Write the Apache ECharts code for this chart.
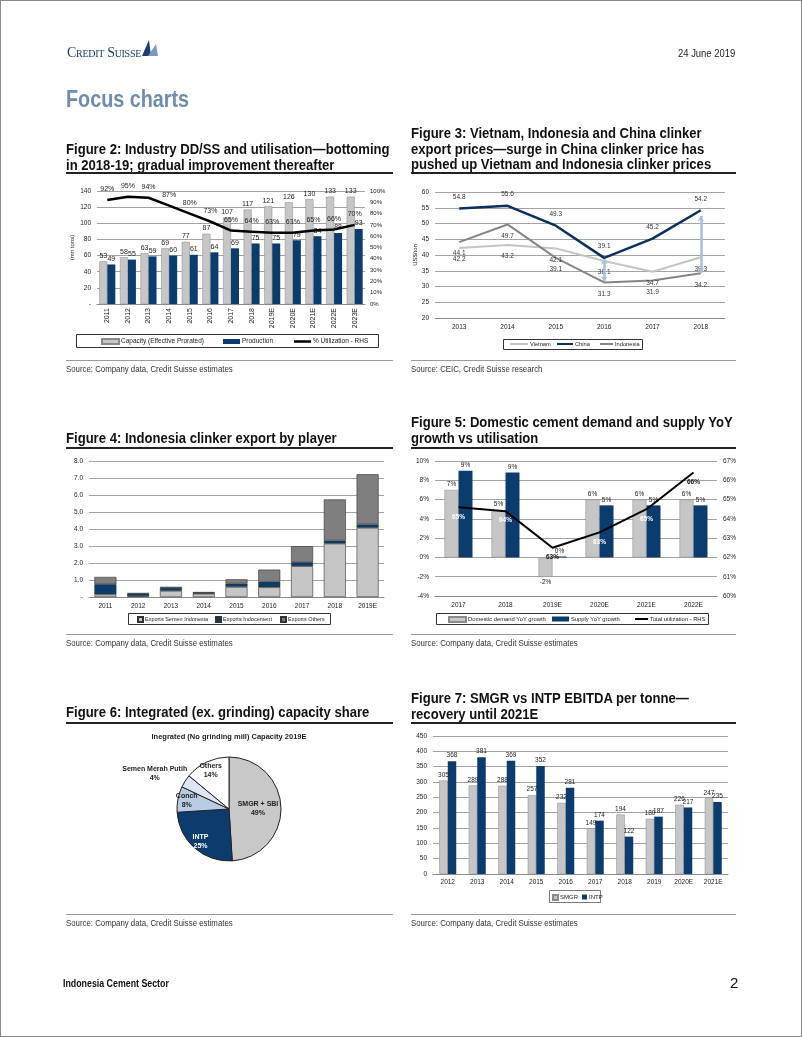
<!DOCTYPE html>
<html><head><meta charset="utf-8">
<script src="https://cdn.jsdelivr.net/npm/echarts/dist/echarts.min.js"></script>
<style>
html,body{margin:0;padding:0;background:#fff;}
#page{position:relative;width:802px;height:1037px;overflow:hidden;box-sizing:border-box;border:1px solid #8a8a8a;
 font-family:"Liberation Sans",Arial,sans-serif;color:#000;}
#chart{position:absolute;left:0;top:0;width:802px;height:1037px;}
.t{position:absolute;white-space:nowrap;transform-origin:0 0;}
.title{font-weight:bold;font-size:14px;line-height:15.5px;color:#111;transform:scaleX(0.935);}
.rule{position:absolute;height:1.5px;background:#222;}
.srule{position:absolute;height:1px;background:#9a9a9a;}
.src{font-size:9px;line-height:12px;color:#333;transform:scaleX(0.87);}
</style></head>
<body><div id="page">
<div id="chart"></div>
<div class="t" style="left:66px;top:44px;font-family:'Liberation Serif',serif;font-variant:small-caps;font-size:14px;line-height:16px;color:#1c3d6e;letter-spacing:-0.3px">Credit Suisse</div>
<svg style="position:absolute;left:140px;top:37px" width="18" height="19"><path d="M1,18 L8,2 L10,18 Z" fill="#1c3d6e"/><path d="M7,18 L15,6 L17,18 Z" fill="#7f98bd"/></svg>
<div class="t" style="left:677px;top:46px;font-size:10.5px;line-height:13px;color:#222;transform:scaleX(0.9)">24 June 2019</div>
<div class="t" style="left:65px;top:85px;font-size:23px;line-height:26px;font-weight:bold;color:#6f8cae;transform:scaleX(0.86)">Focus charts</div>

<div class="t title" style="left:65px;top:141px">Figure 2: Industry DD/SS and utilisation—bottoming<br>in 2018-19; gradual improvement thereafter</div>
<div class="rule" style="left:65px;width:327px;top:171px"></div>
<div class="t title" style="left:410px;top:125px">Figure 3: Vietnam, Indonesia and China clinker<br>export prices—surge in China clinker price has<br>pushed up Vietnam and Indonesia clinker prices</div>
<div class="rule" style="left:410px;width:325px;top:171px"></div>
<div class="srule" style="left:65px;width:327px;top:359px"></div>
<div class="t src" style="left:65px;top:362px">Source: Company data, Credit Suisse estimates</div>
<div class="srule" style="left:410px;width:325px;top:359px"></div>
<div class="t src" style="left:410px;top:362px">Source: CEIC, Credit Suisse research</div>

<div class="t title" style="left:65px;top:430px">Figure 4: Indonesia clinker export by player</div>
<div class="rule" style="left:65px;width:327px;top:446px"></div>
<div class="t title" style="left:410px;top:414px">Figure 5: Domestic cement demand and supply YoY<br>growth vs utilisation</div>
<div class="rule" style="left:410px;width:325px;top:446px"></div>
<div class="srule" style="left:65px;width:327px;top:633px"></div>
<div class="t src" style="left:65px;top:636px">Source: Company data, Credit Suisse estimates</div>
<div class="srule" style="left:410px;width:325px;top:633px"></div>
<div class="t src" style="left:410px;top:636px">Source: Company data, Credit Suisse estimates</div>

<div class="t title" style="left:65px;top:704px">Figure 6: Integrated (ex. grinding) capacity share</div>
<div class="rule" style="left:65px;width:327px;top:721px"></div>
<div class="t title" style="left:410px;top:690px">Figure 7: SMGR vs INTP EBITDA per tonne—<br>recovery until 2021E</div>
<div class="rule" style="left:410px;width:325px;top:721px"></div>
<div class="srule" style="left:65px;width:327px;top:913px"></div>
<div class="t src" style="left:65px;top:916px">Source: Company data, Credit Suisse estimates</div>
<div class="srule" style="left:410px;width:325px;top:913px"></div>
<div class="t src" style="left:410px;top:916px">Source: Company data, Credit Suisse estimates</div>

<div class="t" style="left:62px;top:976px;font-size:10.5px;line-height:13px;font-weight:bold;color:#111;transform:scaleX(0.84)">Indonesia Cement Sector</div>
<div class="t" style="left:729px;top:973px;font-size:15px;line-height:17px;color:#111">2</div>
</div>
<script>
// ---------- DATA ----------
const fig2Years = ['2011','2012','2013','2014','2015','2016','2017','2018','2019E','2020E','2021E','2022E','2023E'];
const fig2Capacity = [53,58,63,69,77,87,107,117,121,126,130,133,133];
const fig2Production = [49,55,59,60,61,64,69,75,75,79,84,88,93];
const fig2Utilization = [92,95,94,87,80,73,65,64,63,63,65,66,70];

const fig3Years = ['2013','2014','2015','2016','2017','2018'];
const fig3Vietnam = [42.2,43.2,42.1,38.1,34.7,39.3];
const fig3China = [54.8,55.6,49.3,39.1,45.2,54.2];
const fig3Indonesia = [44.1,49.7,39.1,31.3,31.9,34.2];
const fig3GapYears = ['2016','2018'];
const fig3GapTop = [38.6,52.4];
const fig3GapBottom = [31.7,34.3];

const fig4Years = ['2011','2012','2013','2014','2015','2016','2017','2018','2019E'];
const fig4SemenIndonesia = [0.15,0.05,0.36,0.19,0.59,0.57,1.81,3.14,4.07];
const fig4Indocement = [0.60,0.15,0.18,0.07,0.20,0.33,0.24,0.18,0.20];
const fig4Others = [0.43,0.03,0.06,0.02,0.25,0.71,0.94,2.42,2.95];

const fig5Years = ['2017','2018','2019E','2020E','2021E','2022E'];
const fig5Demand = [7.0,4.9,-2.0,6.0,6.0,6.0];
const fig5Supply = [9.0,8.8,0.1,5.4,5.4,5.4];
const fig5Utilization = [64.6,64.4,62.5,63.3,64.5,66.4];

const fig6Names = ['SMGR + SBI','INTP','Conch','Semen Merah Putih','Others'];
const fig6Shares = [49,25,8,4,14];
const fig6Title = 'Inegrated (No grinding mill) Capacity 2019E';

const fig7Years = ['2012','2013','2014','2015','2016','2017','2018','2019','2020E','2021E'];
const fig7SMGR = [305,289,288,257,232,149,194,180,226,247];
const fig7INTP = [368,381,369,352,281,174,122,187,217,235];

// ---------- STYLE ----------
const F = '"Liberation Sans",Arial,sans-serif';
const NAVY = '#0c3c6e', LGRAY = '#c6c6c6', DGRAY = '#7f7f7f';
const GRIDC = '#a3a3a3';
const txt = (size, extra) => Object.assign({fontSize:size, color:'#222', fontFamily:F}, extra||{});

function cat(gi, data, lbl) {
  return {type:'category', gridIndex:gi, data:data, boundaryGap:true,
    axisLine:{show:true, onZero:false, lineStyle:{color:'#8c8c8c', width:1}},
    axisTick:{show:false}, splitLine:{show:false},
    axisLabel:Object.assign({interval:0, margin:6}, txt(6.5), lbl||{})};
}
function val(gi, min, max, step, fmt, extra) {
  return Object.assign({type:'value', gridIndex:gi, min:min, max:max, interval:step,
    axisLine:{show:false}, axisTick:{show:false},
    splitLine:{show:true, lineStyle:{color:GRIDC, width:1}},
    axisLabel:Object.assign({formatter:fmt, margin:6}, txt(6.5))}, extra||{});
}
function legend(left, top, item, size, icon) {
  return {left:left, top:top, orient:'horizontal', padding:0, itemGap:0, selectedMode:false,
    itemWidth:size[0], itemHeight:size[1], data:[item], icon:icon || 'rect',
    textStyle:txt(size[2] || 6.5, {padding:[0,0,0,-3]})};
}

const chart = echarts.init(document.getElementById('chart'), null, {renderer:'canvas'});
const opt = {
  animation:false,
  textStyle:{fontFamily:F},
  grid:[
    {left:96, top:190, width:268, height:113, outerBoundsMode:'none', containLabel:false},
    {left:434, top:191, width:290, height:126, outerBoundsMode:'none', containLabel:false},
    {left:88, top:460, width:295, height:136, outerBoundsMode:'none', containLabel:false},
    {left:434, top:460, width:282, height:135, outerBoundsMode:'none', containLabel:false},
    {left:432, top:735, width:295, height:138, outerBoundsMode:'none', containLabel:false}
  ],
  xAxis:[
    cat(0, fig2Years, {rotate:90, fontSize:7, margin:4}),
    cat(1, fig3Years, {margin:6}),
    cat(2, fig4Years, {margin:6}),
    cat(3, fig5Years, {margin:6}),
    cat(4, fig7Years, {margin:5})
  ],
  yAxis:[
    val(0, 0, 140, 20, v => v === 0 ? '-' : v, {name:'(mn tons)', nameLocation:'middle', nameGap:22, nameTextStyle:txt(6)}),
    val(0, 0, 100, 10, v => v + '%', {position:'right', splitLine:{show:false}, axisLabel:Object.assign({formatter:v => v + '%', margin:5}, txt(6))}),
    val(1, 20, 60, 5, v => v, {name:'US$/ton', nameLocation:'middle', nameGap:17, nameTextStyle:txt(6)}),
    val(2, 0, 8, 1, v => v === 0 ? '-' : v.toFixed(1), {}),
    val(3, -4, 10, 2, v => v + '%', {}),
    val(3, 60, 67, 1, v => v + '%', {position:'right', splitLine:{show:false}}),
    val(4, 0, 450, 50, v => v, {})
  ],
  legend:[
    legend(100, 337, 'Capacity (Effective Prorated)', [17,5,6.5]),
    legend(222, 337, 'Production', [17,5,6.5]),
    legend(293, 337, '% Utilization - RHS', [17,2.5,6.5]),
    legend(509, 340, 'Vietnam', [18,2,5.7]),
    legend(556, 340, 'China', [16,2,5.7]),
    legend(599, 340, 'Indonesia', [13,2,5.7]),
    legend(136, 615, 'Exports Semen Indonesia', [5,5,5.5]),
    legend(214, 615, 'Exports Indocement', [5,5,5.5]),
    legend(279, 615, 'Exports Others', [5,5,5.5]),
    legend(447, 615, 'Domestic demand YoY growth', [17,5,5.8]),
    legend(551, 615, 'Supply YoY growth', [17,5,5.8]),
    legend(634, 615, 'Total utilization - RHS', [13,2,5.8])
  ].concat([
    legend(551, 893, 'SMGR', [5,5,6]),
    legend(581, 893, 'INTP', [5,5,6])
  ]),
  graphic:[
    {type:'rect', shape:{x:75.5, y:333.5, width:302, height:13}, style:{fill:'none', stroke:'#333', lineWidth:1}, silent:true},
    {type:'rect', shape:{x:502.5, y:338.5, width:139, height:10}, style:{fill:'none', stroke:'#333', lineWidth:1}, silent:true},
    {type:'rect', shape:{x:127.5, y:612.5, width:202, height:11}, style:{fill:'none', stroke:'#333', lineWidth:1}, silent:true},
    {type:'rect', shape:{x:435.5, y:612.5, width:272, height:11}, style:{fill:'none', stroke:'#333', lineWidth:1}, silent:true},
    {type:'rect', shape:{x:548.5, y:889.5, width:51, height:12}, style:{fill:'none', stroke:'#555', lineWidth:0.8}, silent:true},
    {type:'text', x:228, y:736, style:{text:fig6Title, font:'bold 7.5px ' + F, fill:'#222', textAlign:'center', textVerticalAlign:'middle'}, silent:true}
  ],
  series:[]
};

const S = opt.series;
// Figure 2
const barLbl = (size, fmt) => ({show:true, position:'top', distance:2, formatter:fmt || '{c}', fontSize:size, color:'#222', fontFamily:F});
S.push({type:'bar', name:'Capacity (Effective Prorated)', xAxisIndex:0, yAxisIndex:0, data:fig2Capacity, barWidth:8, barGap:'0%',
  itemStyle:{color:LGRAY, borderColor:'#8a8a8a', borderWidth:0.5}, label:barLbl(7)});
S.push({type:'bar', name:'Production', xAxisIndex:0, yAxisIndex:0, data:fig2Production, barWidth:8, barGap:'0%',
  itemStyle:{color:NAVY}, label:barLbl(7)});
S.push({type:'line', name:'% Utilization - RHS', xAxisIndex:0, yAxisIndex:1, data:fig2Utilization, symbol:'circle', symbolSize:0,
  lineStyle:{color:'#000', width:2.5}, itemStyle:{color:'#000'}, z:5,
  label:{show:true, position:'top', distance:7, formatter:'{c}%', fontSize:7, color:'#222', fontFamily:F}});

// Figure 3
const lineLbl = (pos) => ({show:true, position:pos, distance:8, fontSize:6.5, color:'#333', fontFamily:F});
S.push({type:'line', name:'Vietnam', xAxisIndex:1, yAxisIndex:2, data:fig3Vietnam, symbol:'circle', symbolSize:0,
  lineStyle:{color:'#c4c4c4', width:2}, itemStyle:{color:'#c4c4c4'}, label:lineLbl('bottom')});
S.push({type:'line', name:'China', xAxisIndex:1, yAxisIndex:2, data:fig3China, symbol:'circle', symbolSize:0, z:4,
  lineStyle:{color:'#0d2f5c', width:2.5}, itemStyle:{color:'#0d2f5c'}, label:lineLbl('top'),
  markLine:{silent:true, symbol:['arrow','arrow'], symbolSize:[5,5], label:{show:false},
    lineStyle:{color:'#a6c0dd', width:2.5, type:'solid'},
    data:fig3GapYears.map((y,i) => [{coord:[y, fig3GapTop[i]]}, {coord:[y, fig3GapBottom[i]]}])}});
S.push({type:'line', name:'Indonesia', xAxisIndex:1, yAxisIndex:2, data:fig3Indonesia, symbol:'circle', symbolSize:0,
  lineStyle:{color:'#858585', width:2}, itemStyle:{color:'#858585'}, label:lineLbl('bottom')});

// Figure 4
const st4 = {borderColor:'#333', borderWidth:0.6};
S.push({type:'bar', name:'Exports Semen Indonesia', xAxisIndex:2, yAxisIndex:3, stack:'f4', data:fig4SemenIndonesia, barWidth:22,
  itemStyle:Object.assign({color:LGRAY}, st4)});
S.push({type:'bar', name:'Exports Indocement', xAxisIndex:2, yAxisIndex:3, stack:'f4', data:fig4Indocement, barWidth:22,
  itemStyle:Object.assign({color:NAVY}, st4)});
S.push({type:'bar', name:'Exports Others', xAxisIndex:2, yAxisIndex:3, stack:'f4', data:fig4Others, barWidth:22,
  itemStyle:Object.assign({color:DGRAY}, st4)});

// Figure 5
const pctFmt = p => Math.round(p.value) + '%';
S.push({type:'bar', name:'Domestic demand YoY growth', xAxisIndex:3, yAxisIndex:4, barWidth:14, barGap:'0%',
  data:fig5Demand.map(v => ({value:v, label:{position: v < 0 ? 'bottom' : 'top'}})),
  itemStyle:{color:LGRAY, borderColor:'#8a8a8a', borderWidth:0.5}, label:barLbl(6.5, pctFmt)});
S.push({type:'bar', name:'Supply YoY growth', xAxisIndex:3, yAxisIndex:4, barWidth:14, barGap:'0%',
  data:fig5Supply, itemStyle:{color:NAVY}, label:barLbl(6.5, pctFmt)});
const whiteIdx = [0,1,3,4];
S.push({type:'line', name:'Total utilization - RHS', xAxisIndex:3, yAxisIndex:5, symbol:'circle', symbolSize:0, z:5,
  data:fig5Utilization.map((v,i) => ({value:v, label:{color: whiteIdx.indexOf(i) >= 0 ? '#fff' : '#111'}})),
  lineStyle:{color:'#000', width:2}, itemStyle:{color:'#000'},
  label:{show:true, position:'bottom', distance:6, formatter:pctFmt, fontSize:6.5, fontWeight:'bold', fontFamily:F}});

// Figure 6
const pieColors = ['#c8c8c8', NAVY, '#b8cce4', '#dde6f1', '#ffffff'];
const pieLbl = p => p.name + '\n' + p.value + '%';
S.push({type:'pie', center:[228,808], radius:52, startAngle:90, clockwise:true, silent:true,
  itemStyle:{borderColor:'#222', borderWidth:1},
  label:{show:true, position:'inside', formatter:pieLbl, fontSize:7, fontWeight:'bold', color:'#222', fontFamily:F, lineHeight:9},
  labelLine:{show:false},
  data:fig6Names.map((n,i) => ({name:n, value:fig6Shares[i], itemStyle:{color:pieColors[i]}, label:{show:i === 0}}))});
S.push({type:'pie', center:[228,808], radius:80, startAngle:90, clockwise:true, silent:true, z:3,
  itemStyle:{color:'rgba(0,0,0,0)', borderWidth:0},
  label:{show:true, position:'inside', formatter:pieLbl, fontSize:7, fontWeight:'bold', color:'#222', fontFamily:F, lineHeight:9},
  labelLine:{show:false},
  labelLayout: p => p.dataIndex === 3 ? {dx:-38, dy:-12, hideOverlap:false} : {hideOverlap:false},
  data:fig6Names.map((n,i) => ({name:n, value:fig6Shares[i],
    label: i === 0 ? {show:false} : (i === 1 ? {color:'#fff'} : {})}))});

// Figure 7
S.push({type:'bar', name:'SMGR', xAxisIndex:4, yAxisIndex:6, data:fig7SMGR, barWidth:8.5, barGap:'0%',
  itemStyle:{color:LGRAY, borderColor:'#8a8a8a', borderWidth:0.5}, label:barLbl(6.5)});
S.push({type:'bar', name:'INTP', xAxisIndex:4, yAxisIndex:6, data:fig7INTP, barWidth:8.5, barGap:'0%',
  itemStyle:{color:NAVY}, label:barLbl(6.5)});

chart.setOption(opt);
</script>
</body></html>
